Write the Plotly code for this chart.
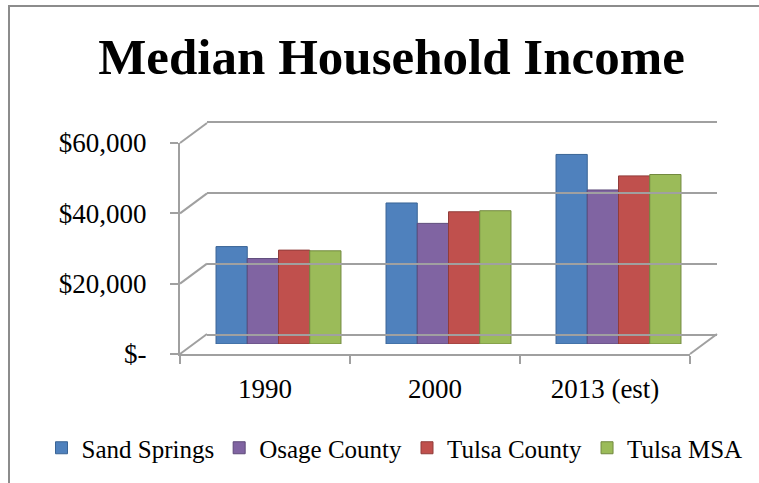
import plotly.graph_objects as go

W, H = 759, 483

# ---- data ----
years = ["1990", "2000", "2013 (est)"]
series_names = ["Sand Springs", "Osage County", "Tulsa County", "Tulsa MSA"]
sand_springs = [27700, 40100, 53900]
osage_county = [24300, 34300, 43800]
tulsa_county = [26700, 37600, 47800]
tulsa_msa = [26500, 37900, 48200]
y_ticks = [0, 20000, 40000, 60000]
y_tick_labels = ["$-", "$20,000", "$40,000", "$60,000"]

series_values = [sand_springs, osage_county, tulsa_county, tulsa_msa]
colors = ["#4F81BD", "#8064A2", "#C0504D", "#9BBB59"]
edges = ["#3A6495", "#5E4A7A", "#913C3A", "#72893F"]

YMAX = 60000
FONT = "Liberation Serif"
GRID = "#A0A0A0"

# front plane (pixels) and depth offset
FX0, FX1, FY0, FY1 = 180, 690, 354, 143
DX, DY = 27, -20


def fx(x):
    return x / W


def fy(y):
    return (H - y) / H


fig = go.Figure()
for name, vals, c, e in zip(series_names, series_values, colors, edges):
    fig.add_trace(go.Bar(
        x=years, y=vals, name=name, xaxis="x2", yaxis="y2",
        marker=dict(color=c, line=dict(color=e, width=1)),
    ))
# empty traces so the front axes and back wall get drawn
fig.add_trace(go.Scatter(x=[], y=[], xaxis="x", yaxis="y", showlegend=False, hoverinfo="skip"))
fig.add_trace(go.Scatter(x=[], y=[], xaxis="x3", yaxis="y3", showlegend=False, hoverinfo="skip"))

shapes = []
# left-side diagonals joining front axis to back wall gridlines
for v in y_ticks:
    yf = FY0 + (FY1 - FY0) * v / YMAX
    shapes.append(dict(type="line", xref="paper", yref="paper", layer="below",
                       x0=fx(FX0), y0=fy(yf), x1=fx(FX0 + DX), y1=fy(yf + DY),
                       line=dict(color=GRID, width=2)))
# floor right edge
shapes.append(dict(type="line", xref="paper", yref="paper", layer="below",
                   x0=fx(FX1), y0=fy(FY0), x1=fx(FX1 + DX), y1=fy(FY0 + DY),
                   line=dict(color=GRID, width=2)))
# outer chart border
shapes.append(dict(type="rect", xref="paper", yref="paper", layer="below",
                   x0=fx(9), y0=-0.05, x1=1.05, y1=fy(6),
                   line=dict(color="#8C8C8C", width=2), fillcolor="rgba(0,0,0,0)"))

fig.update_layout(
    width=W, height=H,
    margin=dict(l=0, r=0, t=0, b=0, autoexpand=False),
    paper_bgcolor="white", plot_bgcolor="rgba(0,0,0,0)",
    barmode="group", bargap=0.265, bargroupgap=0,
    font=dict(family=FONT, color="black"),
    title=dict(text="Median Household Income", x=391.5 / W, xanchor="center",
               y=fy(56), yanchor="middle", yref="container",
               font=dict(family=FONT, size=51, weight="bold", color="black")),
    showlegend=True,
    legend=dict(orientation="h", x=394.5 / W, xanchor="center", y=fy(448), yanchor="middle",
                font=dict(family=FONT, size=25, color="black"), bgcolor="rgba(0,0,0,0)"),
    shapes=shapes,
    # front axes (labels + front edges)
    xaxis=dict(domain=[fx(FX0), fx(FX1)], anchor="y", range=[-0.5, 2.5], automargin=False,
               tickmode="array", tickvals=[0, 1, 2], ticktext=years, ticks="",
               showline=True, linecolor=GRID, linewidth=2, showgrid=False, zeroline=False,
               tickfont=dict(family=FONT, size=27, color="black"), ticklabelstandoff=10,
               minor=dict(tickmode="array", tickvals=[-0.5, 0.5, 1.5, 2.5], ticks="outside",
                          ticklen=8, tickwidth=2, tickcolor=GRID, showgrid=False),
               fixedrange=True),
    yaxis=dict(domain=[fy(FY0), fy(FY1)], anchor="x", range=[0, YMAX], automargin=False,
               tickmode="array", tickvals=y_ticks, ticktext=y_tick_labels,
               ticks="outside", ticklen=8, tickwidth=2, tickcolor=GRID,
               showline=True, linecolor=GRID, linewidth=2, showgrid=False, zeroline=False,
               tickfont=dict(family=FONT, size=27, color="black"), ticklabelstandoff=18,
               fixedrange=True),
    # bar plane (mid depth)
    xaxis2=dict(domain=[fx(FX0 + DX / 2), fx(FX1 + DX / 2)], anchor="y2", automargin=False,
                type="category", categoryorder="array", categoryarray=years,
                range=[-0.5, 2.5], visible=False, fixedrange=True),
    yaxis2=dict(domain=[fy(FY0 + DY / 2), fy(FY1 + DY / 2)], anchor="x2", automargin=False,
                range=[0, YMAX], visible=False, fixedrange=True),
    # back wall (gridlines; top and bottom edges via mirrored axis line)
    xaxis3=dict(domain=[fx(FX0 + DX), fx(FX1 + DX)], anchor="y3", range=[0, 1], automargin=False,
                showgrid=False, showticklabels=False, ticks="", zeroline=False,
                showline=True, mirror=True, linecolor=GRID, linewidth=2, fixedrange=True),
    yaxis3=dict(domain=[fy(FY0 + DY), fy(FY1 + DY)], anchor="x3", range=[0, YMAX], automargin=False,
                tickmode="array", tickvals=y_ticks, showticklabels=False, ticks="",
                showgrid=True, gridcolor=GRID, gridwidth=2, zeroline=False,
                showline=False, fixedrange=True),
)

fig.write_html("out.html", config={"displayModeBar": False},
               post_script="document.body.style.margin='0';document.body.style.overflow='hidden';")
